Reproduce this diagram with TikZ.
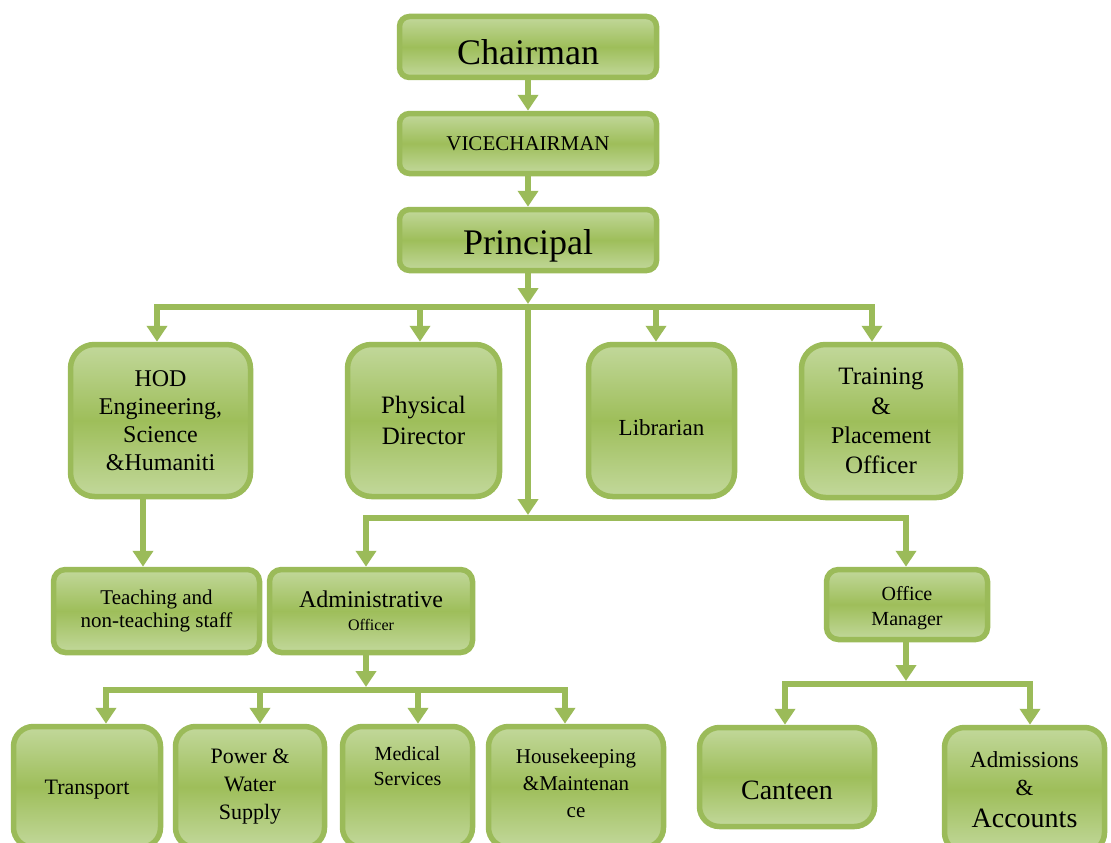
\documentclass[tikz,border=0pt]{standalone}
\usepackage{fontspec}
\setmainfont{Liberation Serif}
\usetikzlibrary{arrows.meta}
\definecolor{ogreen}{HTML}{9BBB59}
\definecolor{olight}{HTML}{C2D89B}
\definecolor{omid}{HTML}{9EBE5A}
\newcommand{\fs}[2]{\fontsize{#1}{#2}\selectfont}
\tikzset{
  orgbox/.style={draw=ogreen, line width=5.5pt, rounded corners=#1,
    top color=olight, bottom color=olight, middle color=omid,
    inner sep=0pt, align=center, text=black},
  orgbox/.default=10pt,
  boxtext/.style={align=center, text=black, inner sep=0pt},
  link/.style={draw=ogreen, line width=6pt},
  arr/.style={link, -{Triangle[length=16pt,width=20pt]}},
  bar/.style={link, line cap=rect},
}
\begin{document}
\begin{tikzpicture}[x=1pt,y=-1pt]
\useasboundingbox (0,0) rectangle (1111,843);
\clip (0,0) rectangle (1111,843);

% top chain
\node[orgbox, minimum width=257pt, minimum height=61pt] (chair) at (528,47) {};
\node[boxtext, font=\fs{36}{40}] (chairtxt) at ([yshift=-5pt]chair.center) {Chairman};
\node[orgbox, minimum width=257pt, minimum height=60pt, font=\fs{21}{24}] (vice) at (528,143.5) {VICECHAIRMAN};
\node[orgbox, minimum width=257pt, minimum height=61pt] (prin) at (528,240) {};
\node[boxtext, font=\fs{36}{40}] (printxt) at ([yshift=-6pt]prin.center) {Principal};

% second row
\node[orgbox=24pt, minimum width=180pt, minimum height=152pt, font=\fs{24}{28}] (hod) at (160.5,420.5) {HOD\\Engineering,\\Science\\\&Humaniti};
\node[orgbox=24pt, minimum width=152pt, minimum height=152pt, font=\fs{25}{31}] (phys) at (423.5,420.5) {Physical\\Director};
\node[orgbox=24pt, minimum width=146pt, minimum height=152pt] (lib) at (661.5,420.5) {};
\node[boxtext, font=\fs{23}{27}] (libtxt) at ([yshift=-7pt]lib.center) {Librarian};
\node[orgbox=24pt, minimum width=159pt, minimum height=153pt, font=\fs{25}{29.5}] (train) at (881,421) {Training\\\&\\{\fs{24}{29.5}Placement}\\Officer};

% third row
\node[orgbox=12pt, minimum width=206pt, minimum height=83pt, font=\fs{21}{23}] (teach) at (156.5,611) {Teaching and\\non-teaching staff};
\node[orgbox=12pt, minimum width=203pt, minimum height=83pt, font=\fs{24}{28}] (admin) at (371,611) {Administrative\\[-5pt]{\fs{16}{18}Officer}};
\node[orgbox=12pt, minimum width=161pt, minimum height=70pt] (om) at (907,604.5) {};
\node[boxtext, font=\fs{20}{25}] (omtxt) at ([yshift=-4pt]om.center) {Office\\Manager};

% bottom row
\node[orgbox=20pt, minimum width=147pt, minimum height=121pt] (trans) at (87,787) {};
\node[boxtext, font=\fs{22}{26}] (transtxt) at ([yshift=-3pt]trans.center) {Transport};
\node[orgbox=20pt, minimum width=149pt, minimum height=121pt, font=\fs{22}{28}] (power) at (250,787) {Power \&\\Water\\Supply};
\node[orgbox=20pt, minimum width=130pt, minimum height=121pt] (med) at (407.5,787) {};
\node[boxtext, font=\fs{20}{25}] (medtxt) at ([yshift=21pt]med.center) {Medical\\Services};
\node[orgbox=20pt, minimum width=175pt, minimum height=121pt] (house) at (576,787) {};
\node[boxtext, font=\fs{21}{27}] (housetxt) at ([yshift=4pt]house.center) {Housekeeping\\\&Maintenan\\ce};
\node[orgbox=20pt, minimum width=175pt, minimum height=99pt] (cant) at (787,777) {};
\node[boxtext, font=\fs{28}{32}] (canttxt) at ([yshift=-13pt]cant.center) {Canteen};
\node[orgbox=20pt, minimum width=160pt, minimum height=125pt, font=\fs{23}{28}] (adm) at (1024.5,790) {Admissions\\\&\\[4pt]{\fs{28}{30}Accounts}};

% junction points on the distribution bars
\coordinate (j1) at (528,307);
\coordinate (j2) at (528,518);
\coordinate (j3) at (366,690);
\coordinate (j4) at (906,684);
\coordinate (b1a) at (157,307);
\coordinate (b1b) at (420,307);
\coordinate (b1c) at (656,307);
\coordinate (b1d) at (872,307);
\coordinate (b2a) at (366,518);
\coordinate (b2b) at (906,518);
\coordinate (b3a) at (106,690);
\coordinate (b3b) at (260,690);
\coordinate (b3c) at (418,690);
\coordinate (b3d) at (565,690);
\coordinate (b4a) at (785,684);
\coordinate (b4b) at (1030,684);

% bars
\draw[bar] (b1a) -- (b1d);
\draw[bar] (b2a) -- (b2b);
\draw[bar] (b3a) -- (b3d);
\draw[bar] (b4a) -- (b4b);

% vertical chain
\draw[arr] (chair.south) -- (vice.north);
\draw[arr] (vice.south) -- (prin.north);
\draw[arr] (prin.south) -- ([yshift=3pt]j1);
\draw[arr] (j1) -- ([yshift=3pt]j2);

% drops from first bar
\draw[arr] (b1a) -- (b1a |- hod.north);
\draw[arr] (b1b) -- (b1b |- phys.north);
\draw[arr] (b1c) -- (b1c |- lib.north);
\draw[arr] (b1d) -- (b1d |- train.north);

% HOD to staff
\draw[arr] ([xshift=-17.5pt]hod.south) -- ([xshift=-17.5pt]hod.south |- teach.north);

% drops from second bar
\draw[arr] (b2a) -- (b2a |- admin.north);
\draw[arr] (b2b) -- (b2b |- om.north);

% administrative officer branch
\draw[arr] (j3 |- admin.south) -- ([yshift=3pt]j3);
\draw[arr] (b3a) -- (b3a |- trans.north);
\draw[arr] (b3b) -- (b3b |- power.north);
\draw[arr] (b3c) -- (b3c |- med.north);
\draw[arr] (b3d) -- (b3d |- house.north);

% office manager branch
\draw[arr] (j4 |- om.south) -- ([yshift=3pt]j4);
\draw[arr] (b4a) -- (b4a |- cant.north);
\draw[arr] (b4b) -- (b4b |- adm.north);
\end{tikzpicture}
\end{document}
